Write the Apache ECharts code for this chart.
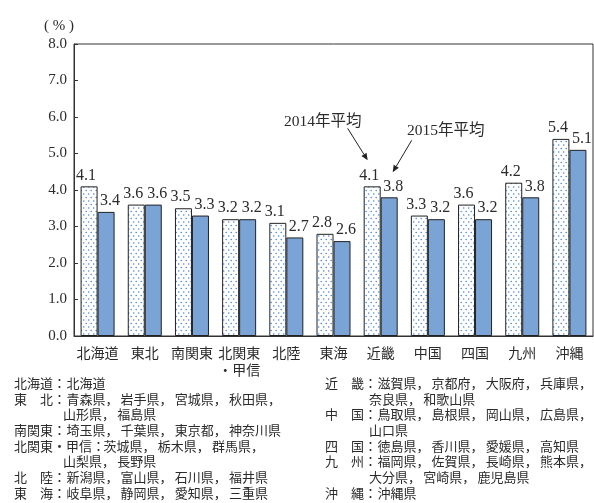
<!DOCTYPE html>
<html>
<head>
<meta charset="utf-8">
<script src="https://cdn.jsdelivr.net/npm/echarts@6/dist/echarts.min.js"></script>
<style>
  html, body { margin: 0; padding: 0; background: #fff; }
  #chart { width: 594px; height: 503px; }
</style>
</head>
<body>
<div id="chart"></div>
<script>
// Regional unemployment rates (%), 2014 and 2015 annual averages
const regions = ['北海道', '東北', '南関東', '北関東\n・甲信', '北陸', '東海', '近畿', '中国', '四国', '九州', '沖縄'];
const avg2014 = [4.1, 3.6, 3.5, 3.2, 3.1, 2.8, 4.1, 3.3, 3.6, 4.2, 5.4];
const avg2015 = [3.4, 3.6, 3.3, 3.2, 2.7, 2.6, 3.8, 3.2, 3.2, 3.8, 5.1];
const yTicks = { min: 0, max: 8, interval: 1 };

// Prefecture notes listed under the chart: [heading, prefectures]
const notesLeft = [
  ['北海道：', ['北海道']],
  ['東　北：', ['青森県，', '岩手県，', '宮城県，', '秋田県，']],
  ['', ['山形県，', '福島県']],
  ['南関東：', ['埼玉県，', '千葉県，', '東京都，', '神奈川県']],
  ['北関東・甲信：', ['茨城県，', '栃木県，', '群馬県，']],
  ['', ['山梨県，', '長野県']],
  ['北　陸：', ['新潟県，', '富山県，', '石川県，', '福井県']],
  ['東　海：', ['岐阜県，', '静岡県，', '愛知県，', '三重県']]
];
const notesRight = [
  ['近　畿：', ['滋賀県，', '京都府，', '大阪府，', '兵庫県，']],
  ['', ['奈良県，', '和歌山県']],
  ['中　国：', ['鳥取県，', '島根県，', '岡山県，', '広島県，']],
  ['', ['山口県']],
  ['四　国：', ['徳島県，', '香川県，', '愛媛県，', '高知県']],
  ['九　州：', ['福岡県，', '佐賀県，', '長崎県，', '熊本県，']],
  ['', ['大分県，', '宮崎県，', '鹿児島県']],
  ['沖　縄：', ['沖縄県']]
];

const serif = '"Liberation Serif", "DejaVu Serif", "Noto Sans CJK JP", serif';
const cjk = '"Noto Sans CJK JP", sans-serif';
const ink = '#2b2b2b';

// dotted fill for the 2014 bars
function dotPattern() {
  const c = document.createElement('canvas');
  c.width = 5; c.height = 7;
  const g = c.getContext('2d');
  g.fillStyle = '#ffffff';
  g.fillRect(0, 0, 5, 7);
  g.fillStyle = '#4f88d2';
  [[1.2, 1.5], [3.7, 5]].forEach(([x, y]) => {
    g.beginPath(); g.arc(x, y, 0.8, 0, Math.PI * 2); g.fill();
  });
  return c;
}

const chart = echarts.init(document.getElementById('chart'), null, { renderer: 'canvas' });

function valueLabel(dx) {
  return {
    show: true, position: 'top', distance: 3, offset: [dx, 0],
    fontFamily: serif, fontSize: 16, color: ink,
    formatter: p => p.value.toFixed(1)
  };
}

chart.setOption({
  animation: false,
  grid: { left: 74, right: 1, top: 44, bottom: 167, show: true, borderColor: '#333', borderWidth: 1 },
  xAxis: {
    type: 'category', data: regions,
    axisLine: { lineStyle: { color: '#333' } },
    axisTick: { inside: true, length: 4, lineStyle: { color: '#333' } },
    axisLabel: { interval: 0, fontFamily: cjk, fontSize: 14, color: ink, margin: 8, lineHeight: 17 }
  },
  yAxis: {
    type: 'value', min: yTicks.min, max: yTicks.max, interval: yTicks.interval,
    name: '( % )', nameLocation: 'end', nameGap: 10,
    nameTextStyle: { fontFamily: serif, fontSize: 15, color: ink, align: 'right', padding: [0, 0, 0, 0] },
    axisLine: { show: true, lineStyle: { color: '#333' } },
    axisTick: { show: true, inside: true, length: 4, lineStyle: { color: '#333' } },
    splitLine: { show: false },
    axisLabel: { fontFamily: serif, fontSize: 15, color: ink, margin: 7, formatter: v => v.toFixed(1) }
  },
  series: [
    {
      name: '2014年平均', type: 'bar', data: avg2014, barWidth: 17, barGap: '0%',
      itemStyle: { color: { image: dotPattern(), repeat: 'repeat' }, borderColor: '#222', borderWidth: 1 },
      label: valueLabel(-3)
    },
    {
      name: '2015年平均', type: 'bar', data: avg2015, barWidth: 17,
      itemStyle: { color: '#7aa3d6', borderColor: '#222', borderWidth: 1 },
      label: valueLabel(4)
    }
  ]
});

// annotation arrows pointing at the 近畿 bars
function arrow(x1, y1, x2, y2) {
  const a = Math.atan2(y2 - y1, x2 - x1), L = 7, W = 3;
  const bx = x2 - L * Math.cos(a), by = y2 - L * Math.sin(a);
  return [
    { type: 'line', silent: true, shape: { x1, y1, x2: bx, y2: by }, style: { stroke: '#222', lineWidth: 1 } },
    { type: 'polygon', silent: true, shape: { points: [[x2, y2], [bx + W * Math.sin(a), by - W * Math.cos(a)], [bx - W * Math.sin(a), by + W * Math.cos(a)]] }, style: { fill: '#222' } }
  ];
}

const k = regions.indexOf('近畿');
const c14 = chart.convertToPixel({ xAxisIndex: 0, yAxisIndex: 0 }, [k, avg2014[k]]);
const c15 = chart.convertToPixel({ xAxisIndex: 0, yAxisIndex: 0 }, [k, avg2015[k]]);
const tip14 = [c14[0] - 13, c14[1] - 26];
const tip15 = [c15[0] + 12, c15[1] - 25];

const graphics = [];
graphics.push(...arrow(tip14[0] - 20, tip14[1] - 32, tip14[0], tip14[1]));
graphics.push(...arrow(tip15[0] + 19, tip15[1] - 32, tip15[0], tip15[1]));
graphics.push({ type: 'text', silent: true, x: tip14[0] - 45, y: tip14[1] - 38,
  style: { text: '2014年平均', font: '15.5px ' + serif, fill: ink, align: 'center', verticalAlign: 'middle' } });
graphics.push({ type: 'text', silent: true, x: tip15[0] + 53, y: tip15[1] - 41,
  style: { text: '2015年平均', font: '15.5px ' + serif, fill: ink, align: 'center', verticalAlign: 'middle' } });

// notes: each character occupies a fixed full-width cell
const noteFont = '13px ' + cjk;
const cell = 13.3;
function noteBlock(rows, xLabel, xBody, yStart) {
  rows.forEach((r, i) => {
    const y = yStart + i * 15.7;
    let x = xBody;
    if (r[0]) {
      graphics.push({ type: 'text', silent: true, x: xLabel, y,
        style: { text: r[0], font: noteFont, fill: ink, verticalAlign: 'middle' } });
      x = xLabel + r[0].length * (r[0].length > 4 ? 12.8 : 13.1);
    }
    r[1].forEach(item => {
      graphics.push({ type: 'text', silent: true, x, y,
        style: { text: item, font: noteFont, fill: ink, verticalAlign: 'middle' } });
      x += item.length * cell + (item.endsWith('，') ? 1 : 0);
    });
  });
}
noteBlock(notesLeft, 14, 63, 383);
noteBlock(notesRight, 325, 369, 383);

chart.setOption({ graphic: graphics });
</script>
</body>
</html>
